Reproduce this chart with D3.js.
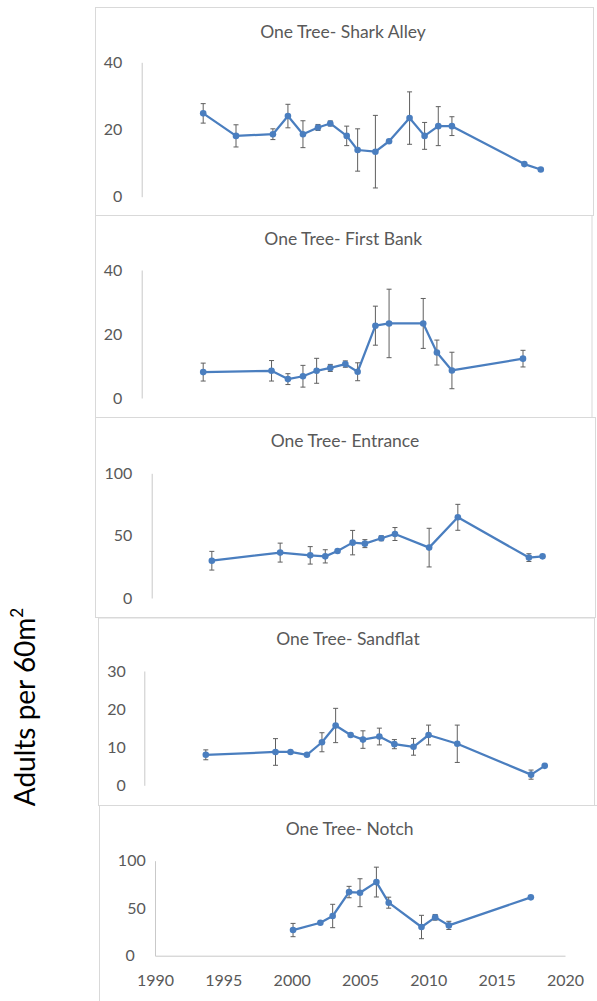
<!DOCTYPE html>
<html>
<head>
<meta charset="utf-8">
<script src="https://cdn.jsdelivr.net/npm/d3@7/dist/d3.min.js"></script>
<style>
  html, body { margin: 0; padding: 0; background: #ffffff; }
  svg { display: block; }
  text { font-family: Lato, "Open Sans", sans-serif; }
</style>
</head>
<body>
<svg id="chart" width="597" height="1001"></svg>
<script>
// ---- Survey data: adult density per 60 m2 (mean and error) at five One Tree sites ----
const sharkAlleyYears  = [1994.5, 1996.9, 1999.6, 2000.7, 2001.8, 2002.9, 2003.8, 2005.0, 2005.8, 2007.1, 2008.1, 2009.6, 2010.7, 2011.7, 2012.7, 2018.0, 2019.2];
const sharkAlleyAdults = [24.8, 18.1, 18.6, 24.0, 18.6, 20.6, 21.8, 18.1, 13.9, 13.4, 16.5, 23.4, 18.1, 21.0, 21.0, 9.7, 8.1];
const sharkAlleyError  = [2.9, 3.3, 1.6, 3.5, 4.0, 0.9, 0.75, 2.9, 6.3, 10.8, null, 7.8, 4.0, 5.8, 2.8, null, null];

const firstBankYears  = [1994.5, 1999.5, 2000.7, 2001.8, 2002.8, 2003.8, 2004.9, 2005.8, 2007.1, 2008.1, 2010.6, 2011.6, 2012.7, 2017.9];
const firstBankAdults = [8.1, 8.5, 5.9, 6.8, 8.5, 9.4, 10.6, 8.2, 22.6, 23.3, 23.3, 14.2, 8.6, 12.3];
const firstBankError  = [2.8, 3.2, 1.7, 3.4, 3.9, 1.1, 1.0, 2.8, 6.1, 10.7, 7.8, 3.9, 5.7, 2.6];

const entranceYears  = [1994.4, 1999.4, 2001.6, 2002.7, 2003.6, 2004.7, 2005.6, 2006.8, 2007.8, 2010.3, 2012.4, 2017.6, 2018.6];
const entranceAdults = [29.9, 36.4, 34.2, 33.4, 37.7, 44.4, 43.6, 47.9, 51.3, 40.4, 64.7, 32.4, 33.4];
const entranceError  = [7.5, 7.6, 7.0, 5.3, null, 9.8, 3.2, 2.0, 5.2, 15.5, 10.4, 3.1, null];

const sandflatYears  = [1994.5, 1999.6, 2000.7, 2001.9, 2003.0, 2004.0, 2005.1, 2006.0, 2007.2, 2008.3, 2009.7, 2010.8, 2012.9, 2018.3, 2019.3];
const sandflatAdults = [8.0, 8.75, 8.75, 8.0, 11.3, 15.7, 13.2, 12.0, 12.8, 10.8, 10.1, 13.2, 10.9, 2.8, 5.1];
const sandflatError  = [1.3, 3.5, null, null, 2.5, 4.5, null, 2.3, 2.2, 1.2, 2.2, 2.6, 4.9, 1.2, null];

const notchYears  = [2000.1, 2002.1, 2003.0, 2004.2, 2005.0, 2006.2, 2007.1, 2009.5, 2010.5, 2011.5, 2017.5];
const notchAdults = [27.0, 34.7, 41.8, 67.0, 66.3, 77.5, 55.8, 30.2, 40.4, 31.9, 61.4];
const notchError  = [7.0, null, 12.3, 6.0, 14.7, 15.7, 5.8, 12.3, 3.0, 4.3, null];

const siteTitles = ["One Tree- Shark Alley", "One Tree- First Bank", "One Tree- Entrance", "One Tree- Sandflat", "One Tree- Notch"];
const yTickSets  = [[0, 20, 40], [0, 20, 40], [0, 50, 100], [0, 10, 20, 30], [0, 50, 100]];
const xDomain    = [1990, 2020];
const xTickYears = [1990, 1995, 2000, 2005, 2010, 2015, 2020];
const yAxisTitle = "Adults per 60m";

// ---- Panel geometry (page pixels) ----
const layout = [
  { box: [95.5, 7.5, 593.5, 215.5],  axisX: 141.7, yBase: 196.7, yTop: 62.3,  titleX: 343,   titleY: 37.5,  pad: 19.4 },
  { box: [95.5, 215.5, 592, 417.5],  axisX: 141.7, yBase: 398,   yTop: 270,   titleX: 343.3, titleY: 245,   pad: 19.4 },
  { box: [95.5, 417.5, 595.5, 617.5],axisX: 151.7, yBase: 598,   yTop: 473.3, titleX: 345,   titleY: 446.5, pad: 19.4 },
  { box: [98.5, 618, 594.5, 805.5],  axisX: 144.3, yBase: 785.3, yTop: 671,   titleX: 348,   titleY: 645,   pad: 18.6 },
  { box: [99.5, 805.5, 610, 1010],   axisX: 155,   yBase: 955.7, yTop: 860.7, titleX: 349.7, titleY: 835,   pad: 9.3, zeroShift: -11, showX: true }
];
const plotWidth = 410;

const series = [
  { years: sharkAlleyYears, adults: sharkAlleyAdults, error: sharkAlleyError },
  { years: firstBankYears,  adults: firstBankAdults,  error: firstBankError },
  { years: entranceYears,   adults: entranceAdults,   error: entranceError },
  { years: sandflatYears,   adults: sandflatAdults,   error: sandflatError },
  { years: notchYears,      adults: notchAdults,      error: notchError }
];

const lineColor  = "#4a7ebf";
const errColor   = "#5f5f5f";
const textColor  = "#595959";
const axisColor  = "#c9c9c9";
const frameColor = "#d9d9d9";

const svg = d3.select("#chart");

series.forEach((s, i) => {
  const L = layout[i];
  const g = svg.append("g").attr("class", "panel");

  // panel frame
  const [x0, y0, x1, y1] = L.box;
  g.append("rect")
    .attr("x", x0).attr("y", y0)
    .attr("width", x1 - x0).attr("height", y1 - y0)
    .attr("fill", "#ffffff")
    .attr("stroke", frameColor).attr("stroke-width", 1);

  const ticks = yTickSets[i];
  const x = d3.scaleLinear().domain(xDomain).range([L.axisX, L.axisX + plotWidth]);
  const y = d3.scaleLinear().domain([0, d3.max(ticks)]).range([L.yBase, L.yTop]);

  // title
  g.append("text")
    .attr("x", L.titleX).attr("y", L.titleY)
    .attr("text-anchor", "middle")
    .attr("font-size", 17.5)
    .attr("fill", textColor)
    .text(siteTitles[i]);

  // value axis
  const yAxis = g.append("g")
    .attr("transform", `translate(${L.axisX},0)`)
    .call(d3.axisLeft(y).tickValues(ticks).tickSize(0).tickPadding(L.pad).tickFormat(d3.format("d")));
  yAxis.select(".domain").attr("stroke", axisColor).attr("stroke-width", 1);
  yAxis.selectAll("text")
    .attr("font-family", "Lato, sans-serif")
    .attr("font-size", 16)
    .attr("fill", textColor);
  if (L.zeroShift) {
    // the origin label sits a little left of the others on the bottom panel
    yAxis.selectAll(".tick").filter(d => d === 0).select("text")
      .attr("x", -L.pad + L.zeroShift);
  }

  // year axis on the bottom panel
  if (L.showX) {
    const xAxis = g.append("g")
      .attr("transform", `translate(0,${L.yBase})`)
      .call(d3.axisBottom(x).tickValues(xTickYears).tickSize(0).tickPadding(19).tickFormat(d3.format("d")));
    xAxis.select(".domain").attr("stroke", axisColor).attr("stroke-width", 1);
    xAxis.selectAll("text")
      .attr("font-family", "Lato, sans-serif")
      .attr("font-size", 16)
      .attr("fill", textColor);
  }

  const pts = s.years.map((yr, k) => ({ year: yr, v: s.adults[k], e: s.error[k] }));

  // connecting line
  g.append("path")
    .datum(pts)
    .attr("fill", "none")
    .attr("stroke", lineColor)
    .attr("stroke-width", 2.25)
    .attr("stroke-linejoin", "round")
    .attr("d", d3.line().x(d => x(d.year)).y(d => y(d.v)));

  // error bars
  const eb = g.append("g")
    .selectAll("g")
    .data(pts.filter(d => d.e != null))
    .join("g")
    .attr("stroke", errColor)
    .attr("stroke-width", 1);
  eb.append("line")
    .attr("x1", d => x(d.year)).attr("x2", d => x(d.year))
    .attr("y1", d => y(d.v + d.e)).attr("y2", d => y(d.v - d.e));
  eb.append("line")
    .attr("x1", d => x(d.year) - 2.5).attr("x2", d => x(d.year) + 2.5)
    .attr("y1", d => y(d.v + d.e)).attr("y2", d => y(d.v + d.e));
  eb.append("line")
    .attr("x1", d => x(d.year) - 2.5).attr("x2", d => x(d.year) + 2.5)
    .attr("y1", d => y(d.v - d.e)).attr("y2", d => y(d.v - d.e));

  // markers
  g.append("g")
    .selectAll("circle")
    .data(pts)
    .join("circle")
    .attr("cx", d => x(d.year))
    .attr("cy", d => y(d.v))
    .attr("r", 3.3)
    .attr("fill", lineColor);
});

// shared value-axis title
const yt = svg.append("text")
  .attr("transform", "translate(35,707) rotate(-90)")
  .attr("text-anchor", "middle")
  .attr("font-size", 28)
  .attr("fill", "#000000");
yt.append("tspan").text(yAxisTitle);
yt.append("tspan").attr("font-size", 17).attr("dy", -12).text("2");
</script>
</body>
</html>
